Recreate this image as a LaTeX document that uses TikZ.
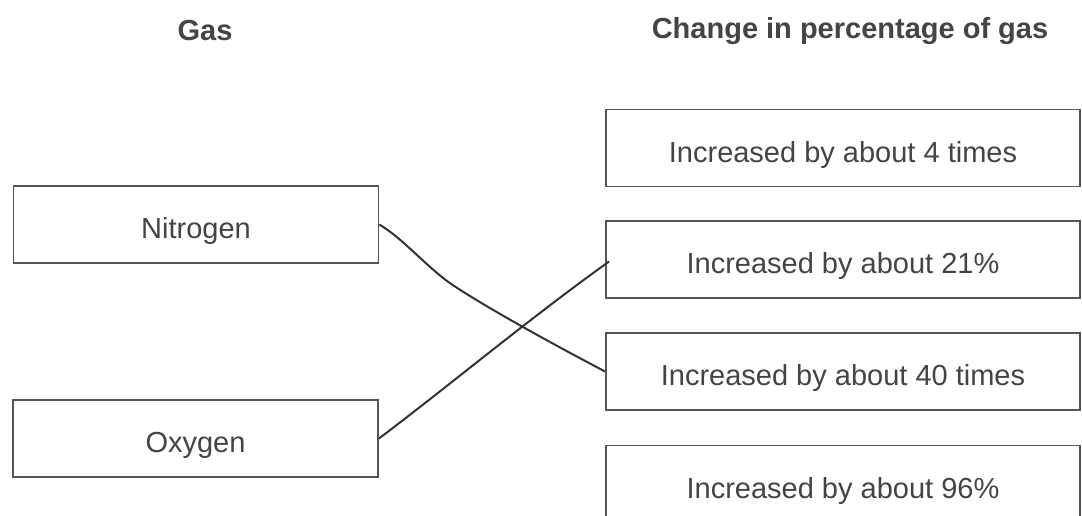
\documentclass[tikz,border=0pt]{standalone}
\usepackage{fontspec}
\setmainfont{Liberation Sans}
\definecolor{txt}{HTML}{444444}
\definecolor{boxline}{HTML}{555555}
\definecolor{wire}{HTML}{333333}
\tikzset{
  gasbox/.style={draw=boxline, line width=1.8pt, minimum width=365pt, minimum height=77pt, inner sep=0pt, text height=30pt, text depth=2pt, text=txt, font=\fontsize{29}{32}\selectfont},
  chgbox/.style={draw=boxline, line width=1.8pt, minimum width=474pt, minimum height=77pt, inner sep=0pt, text height=30pt, text depth=2pt, text=txt, font=\fontsize{29}{32}\selectfont},
  heading/.style={text=txt, font=\bfseries\fontsize{29}{32}\selectfont, inner sep=0pt},
  wirelink/.style={draw=wire, line width=2pt}
}
\begin{document}
\begin{tikzpicture}[x=1pt,y=-1pt]
\useasboundingbox (0,0) rectangle (1082,515);
\clip (0,0) rectangle (1082,515);
\fill[white] (0,0) rectangle (1082,515);
\node[heading] (hgas) at (205,31) {Gas};
\node[heading] (hchg) at (850,31) {Change in percentage of gas};
\node[gasbox] (nit) at (196,224.5) {Nitrogen};
\node[gasbox] (oxy) at (195.5,438.5) {Oxygen};
\node[chgbox] (c1) at (843,148) {Increased by about 4 times};
\node[chgbox] (c2) at (843,259.5) {Increased by about 21\%};
\node[chgbox] (c3) at (843,371.5) {Increased by about 40 times};
\node[chgbox] (c4) at (843,484) {Increased by about 96\%};
\draw[wirelink] (nit.east) .. controls (402,238) and (422,262) .. (447,281) .. controls (475,301) and (545,340) .. (c3.west);
\draw[wirelink] (oxy.east) .. controls (450,385) and (530,318) .. ([xshift=4pt,yshift=-2pt]c2.west);
\end{tikzpicture}
\end{document}
